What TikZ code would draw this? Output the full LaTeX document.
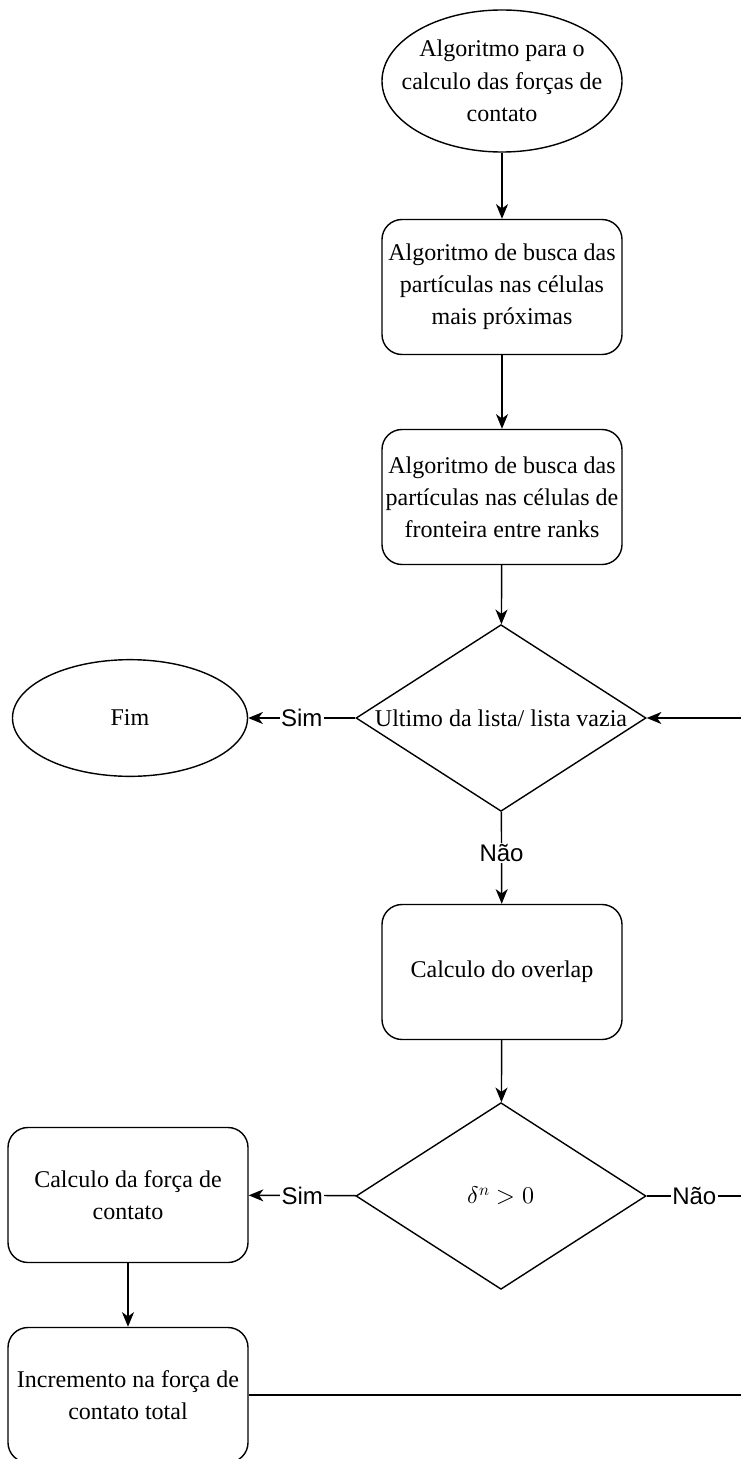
\documentclass[tikz,border=0pt]{standalone}
\usepackage{fontspec}
\usepackage{unicode-math}
\setmainfont{Liberation Serif}
\setsansfont{Liberation Sans}
\setmathfont{Latin Modern Math}
\usetikzlibrary{shapes.geometric,arrows.meta}

\begin{document}
\begin{tikzpicture}[x=0.03cm,y=-0.03cm,
  line width=1.2pt,
  every node/.style={font=\fontsize{20.5}{27.5}\selectfont},
  proc/.style={draw, rounded corners=0.6cm, minimum width=7.2cm,
    minimum height=4.05cm, inner sep=0pt, align=center},
  term/.style={draw, ellipse, inner sep=0pt},
  decide/.style={draw, diamond, inner sep=0pt, minimum width=8.7cm, minimum height=5.6cm},
  inlabel/.style={align=center},
  flow/.style={-{Stealth[length=0.44cm,width=0.36cm,inset=0.13cm]}},
  tag/.style={fill=white, inner sep=1pt, font=\sffamily\fontsize{20.5}{23}\selectfont},
]
\useasboundingbox (0,0) rectangle (741,1459);

% start / end terminals
\node[term, minimum width=7.2cm, minimum height=4.26cm,
  label={[inlabel]center:Algoritmo para o\\calculo das forças de\\contato}] (start) at (502,81) {};
\node[term, minimum width=7.05cm, minimum height=3.5cm,
  label={[inlabel]center:Fim}] (fim) at (130,718) {};

% main column
\node[proc] (busca1) at (502,287) {Algoritmo de busca das\\partículas nas células\\mais próximas};
\node[proc] (busca2) at (502,497) {Algoritmo de busca das\\partículas nas células de\\fronteira entre ranks};
\node[decide, label={[inlabel]center:Ultimo da lista/ lista vazia}] (fimlista) at (501,718) {};
\node[proc] (overlap) at (502,972) {Calculo do overlap};
\node[decide, label={[inlabel]center:$\delta^n > 0$}] (teste) at (501,1196) {};

% left column
\node[proc] (forca) at (128,1195) {Calculo da força de\\contato};
\node[proc] (incr) at (128,1395) {Incremento na força de\\contato total};

% return path runs just past the right border
\coordinate (ret) at (748,718);

% connectors
\draw[flow] (start) -- (busca1);
\draw[flow] (busca1) -- (busca2);
\draw[flow] (busca2) -- (fimlista);
\draw[flow] (fimlista) -- node[tag]{Sim} (fim);
\draw[flow] (fimlista) -- node[tag, pos=0.45]{Não} (overlap);
\draw[flow] (overlap) -- (teste);
\draw[flow] (teste) -- node[tag]{Sim} (forca);
\draw[flow] (forca) -- (incr);
\draw (teste.east) -- node[tag, pos=0.47]{Não} (teste.east -| ret) -- (ret);
\draw (incr.east) -- (incr.east -| ret) -- (ret);
\draw[flow] (ret) -- (fimlista.east);
\end{tikzpicture}
\end{document}
